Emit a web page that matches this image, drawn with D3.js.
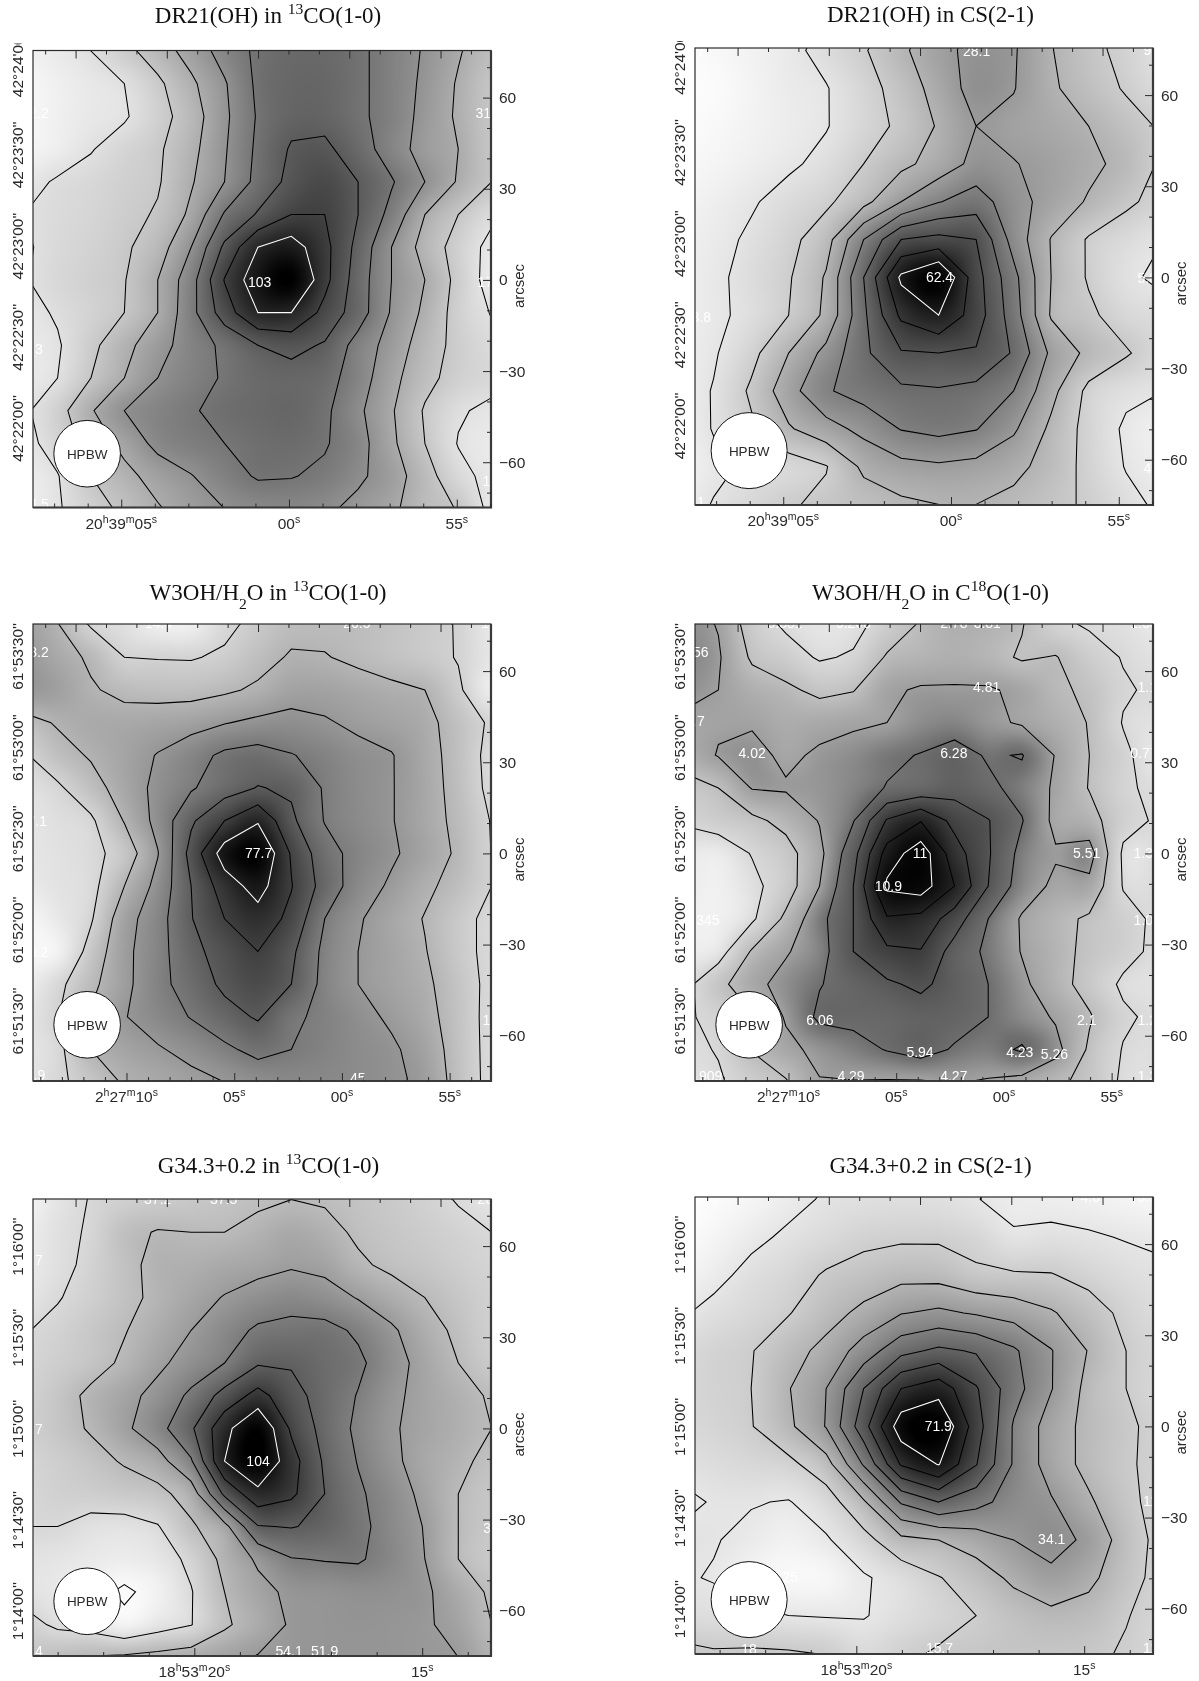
<!DOCTYPE html>
<html>
<head>
<meta charset="utf-8">
<style>
    body { margin: 0; background: #fff; }
    canvas { position: absolute; }
    svg { position: absolute; left: 0; top: 0; }
</style>
<script src="https://cdnjs.cloudflare.com/ajax/libs/d3/7.8.5/d3.min.js"></script>
</head>
<body>
<script>
// maps, one row per line, in units of contour step
const dr21CoGrid = [
    .3,.6,1,1.7,2.5,3.4,4.4,5.2,5.5,5.5,5.2,4.6,3.9,3.1,2.3,
    .1,.4,.7,1,1.8,2.8,3.9,5.2,5.6,5.6,5.2,4.6,3.8,2.9,2,
    .1,.4,.7,.9,1.6,2.5,3.8,5.1,5.7,5.7,5.2,4.6,3.7,2.85,2,
    .2,.5,.95,1.4,1.85,2.7,3.9,5.2,6.1,6.2,5.5,4.5,3.6,3,2,
    .7,1.1,1.3,1.6,1.9,2.9,4,5.3,6.3,6.7,6,5.1,4,2.9,2,
    1,1.2,1.4,1.7,2.1,3.2,5.1,6.1,7,7,6,4.7,3,2,1.2,
    .9,1.25,1.5,1.85,2.5,4,6.2,8,8.5,7.3,5.7,4,2.6,1.6,.7,
    .95,1.3,1.6,1.95,3,4.6,7.05,8.7,9.5,7.3,5.5,4,3,1.7,.6,
    .7,1.1,1.5,2,3,4.7,6.5,8,8,6.7,5.5,3.9,2.8,1.6,.95,
    .6,.9,1.75,2.7,3.6,4.5,5.2,6,6.3,5.9,4.6,3.6,2.5,1.7,1.2,
    .6,1,2,3,4,4.6,5.1,5.5,5.6,5.4,4.5,3.3,2.3,1.6,1.3,
    .85,1.6,2.9,4,4.5,4.9,5.3,5.5,5.6,5.2,4.2,3.1,1.9,1.1,.8,
    .7,1.4,2.4,3.3,4.3,4.7,5,5.3,5.4,5.1,4.4,3.2,2,.95,.6,
    .5,.95,2,2.7,3.4,3.95,4.6,5.1,5.05,4.8,4.2,3.5,2.4,1.3,.7,
    .4,.9,1.6,2.2,2.9,3.5,4,4.3,4.4,4.2,3.7,3.2,2.4,1.95,.7
]
const dr21CsGrid = [
    0,.1,.3,.6,1,1.5,2.3,3.3,4.2,4.2,3,2.2,1.6,1,
    0,.15,.4,.75,1.3,1.9,2.8,3.7,4.3,4.1,3.05,2.3,1.7,1.1,
    0,.05,.35,.7,.95,1.6,2.4,3.4,4.4,4.05,3.15,2.5,1.9,1.3,
    .05,.15,.4,.65,.95,1.55,2.2,3.1,4,3.7,3.4,3,2.4,1.85,
    .15,.3,.55,.85,1.25,2,2.75,3.4,4.3,4.05,3.7,3.25,2.7,1.8,
    .3,.55,.9,1.35,1.8,2.7,4,4.95,5.5,4.4,3.6,2.9,2.2,1.6,
    .5,.7,1.15,1.7,2.6,5,7,7.3,7,4.6,2.95,1.9,1.4,1,
    .5,.8,1.3,1.9,3.1,6,9.2,10.2,7.4,5.3,3,1.9,1.15,.8,
    .5,.8,1.25,2,3.2,5.8,8.2,9,7.5,5.5,2.9,2.2,1.5,1.3,
    .6,.9,1.7,3,4.3,5.8,6.9,7,6.9,5.9,3.8,2.75,2.1,1.4,
    .5,1.05,2.15,3.6,4.9,5.4,5.8,5.9,5.7,5,3.3,1.75,1.2,1,
    .4,1.05,1.85,2.9,3.6,4.3,5.05,5.3,5.05,4.15,2.8,1.65,.85,.5,
    .35,.8,1.15,1.5,1.95,3.2,3.7,3.85,3.7,3.3,2.6,1.7,.95,.6,
    .5,1.05,1.5,1.9,2.2,2.5,2.8,3,3,2.7,2.3,1.85,1.25,.8
]
const w3CoGrid = [
    2.7,2.05,.9,.5,0,0,.75,1.3,1.7,1.75,1.7,1.5,1.25,.95,.2,
    3,2.4,1.85,1,.95,.93,1.15,1.65,2.1,2.05,1.8,1.55,1.3,.95,.3,
    3,2.7,2.1,1.75,1.65,1.65,1.85,2.15,2.6,2.6,2.4,2.2,2,1.15,.05,
    1.6,2.1,2.35,2.4,2.5,2.65,2.95,3.2,3.3,3.1,2.8,2.6,2.3,1.55,.85,
    .9,1.6,2.1,2.55,3.05,3.6,4.2,4.4,4.05,3.7,3.3,3.05,2.4,1.6,.7,
    .45,.85,1.6,2.45,3.25,3.9,4.55,5.05,4.85,3.9,3.4,3.05,2.45,1.65,.75,
    .3,.55,.85,2.05,3.3,4.85,6,6.9,5.2,3.95,3.45,3.05,2.45,1.75,.95,
    .3,.45,.7,1.4,2.95,5.35,7.5,8.1,5.9,4.4,3.65,3.15,2.55,1.85,.98,
    .15,.4,.7,2,3.3,5,6.5,7.4,6.05,4.6,3.5,2.85,2.2,1.65,1,
    -.3,.2,.9,2.6,3.6,4.95,6,6.6,5.75,4,3.1,2.5,1.95,1.3,.75,
    -.3,-.1,1.35,2.75,3.65,4.7,5.45,6,5.2,3.75,3,2.55,2.05,1.3,.75,
    0,.75,1.75,2.75,3.7,4.45,5.2,5.6,5,3.7,3,2.6,2.2,1.45,.75,
    .3,.95,2.1,2.95,3.5,4.05,4.65,5.1,4.2,3.75,3.3,2.85,2.35,1.5,.7,
    .3,.75,2,2.55,2.9,3.3,3.8,4.3,4,3.7,3.4,3.15,2.6,1.55,.7,
    .3,.8,1.4,2.1,2.4,2.7,3,3.3,3.5,3.5,3.4,3.2,2.8,1.6,.7
]
const w3C18oGrid = [
    3.4,2.95,1.5,.85,.6,.7,1.4,2.1,2.5,2.4,2.05,1.2,.9,.75,.5,
    3.5,3.1,1.85,1.4,.9,1.1,2.1,2.35,2.5,2.3,1.9,2.05,1.4,.95,.7,
    3.3,3,2.5,2.2,1.75,1.95,2.85,3.1,3.1,3.1,2.8,2.2,1.8,1.1,.85,
    2.8,2.9,2.9,2.6,2.7,2.85,3,3.4,3.55,3.2,2.9,2.5,1.95,.95,.7,
    2.5,3.05,3.3,2.8,3.15,3.4,3.8,4.05,4.4,3.9,4.05,2.95,2,1.2,.5,
    1.6,2,3.05,3.1,3.2,3.55,4.05,4.3,4.6,4.2,3.7,2.85,1.95,1.15,.8,
    1.1,1.4,1.75,2.3,3.05,3.95,6.1,6.95,5.7,5.05,4.05,2.75,2.4,1.3,.9,
    .5,.45,1.05,1.6,2.75,4.65,7.4,8.6,6.45,5.1,3.7,3.1,3.4,.85,.8,
    .4,.3,.75,1.5,3,5,8.2,8.5,7,5,3.5,2.8,2.75,.95,.85,
    .3,.3,.85,2.2,3.7,5,6.9,6.7,5.5,4,2.9,2.3,1.85,1.3,.85,
    .4,.6,2.1,2.9,3.6,5,5.8,5.95,4.6,3.8,2.95,2.35,1.75,1.3,.8,
    .75,1.7,2.7,3.35,3.95,4.4,4.85,5.2,4.6,4,3.2,2.4,1.6,.85,.7,
    .9,1.2,1.9,3.1,4.2,4.25,4.3,4.5,4.4,4,3.45,2.9,2.1,1.15,.8,
    .8,1.05,2.05,2.75,3.25,3.65,4.05,4.4,3.9,3.7,4.1,3.3,1.85,.95,.8,
    .7,.9,1.4,1.9,2.95,2.95,2.9,2.9,3.05,2.9,2.7,2.2,1.7,.85,.75
]
const g34CoGrid = [
    .1,.6,1.05,1.3,1.45,1.55,1.7,1.85,2,1.9,1.7,1.5,1.25,.95,.6,
    .3,.75,1.1,1.8,2.05,2,2,2.25,2.55,2.3,1.85,1.6,1.4,1.2,1,
    .4,.75,1.2,1.75,2.25,2.35,2.55,2.7,2.9,2.75,2.15,1.8,1.6,1.35,1.15,
    .55,.95,1.3,1.75,2.2,2.65,3.05,3.4,3.6,3.4,2.95,2.45,2,1.6,1.25,
    .95,1.2,1.55,1.95,2.45,3,3.6,4.15,4.3,4.3,3.85,3.15,2.4,1.8,1.3,
    1.1,1.35,1.65,2.15,2.8,3.4,4,4.9,4.9,4.55,4.2,3.4,2.65,2,1.45,
    1.2,1.6,2.2,2.7,3.3,4.2,5.35,6.35,5.35,4.6,3.95,3.2,2.7,2.3,1.9,
    1.3,1.6,2.1,2.8,3.65,4.85,6.7,8,5.85,4.65,3.8,3.1,2.7,2.35,2,
    1.1,1.35,1.65,2.1,2.6,3.9,7,8.1,6.4,4.85,3.95,3.2,2.6,2.2,1.75,
    1.05,1.25,1.35,1.5,1.7,2.45,5.2,6.7,6.2,5,4.15,3.5,2.75,2,1.6,
    1,1,.75,.7,.95,1.85,2.7,4.95,5.05,4.8,4.25,3.6,2.95,2,1.55,
    .7,.6,.45,.35,.55,1.2,2.25,3.15,3.95,4.05,4.1,3.65,3,2,1.5,
    .7,.5,.2,-.1,.2,.95,2,2.7,3.2,3.3,3.4,3.35,3.15,2.5,1.85,
    1.3,.85,.65,.15,.6,.97,1.85,2.5,3.1,3.2,3.25,3.2,3.1,2.75,2,
    1.6,1.85,2.05,2.15,2.3,2.45,2.75,3.05,3.15,3.2,3.2,3.2,3.1,3,2.3
]
const g34CsGrid = [
    0,.1,.3,.55,.85,1.05,1.15,1.2,1.1,.9,.75,.6,.5,.4,
    0,.15,.4,.75,1.1,1.25,1.3,1.25,1.03,.75,.7,.6,.45,.35,
    .1,.4,.8,1.15,1.45,1.75,1.85,1.85,1.6,1.1,1.2,1.1,.95,.85,
    .4,.75,1.25,1.6,2.1,2.4,2.7,2.65,2.2,2.1,2.05,1.7,1.35,1.15,
    .85,1.25,1.55,1.95,2.6,3.25,3.95,4.2,3.9,3.6,3.1,2.45,1.75,1.35,
    1.4,1.7,1.95,2.6,3.3,4.45,5.7,6.2,5.9,5.15,4.05,2.95,2,1.55,
    1.5,1.75,2,2.95,4,6,8,8.6,7.1,5.4,4.05,2.7,2,1.5,
    1.45,1.65,1.95,2.8,4.05,6.6,9.6,10,7.5,4.9,3.55,2.7,2.15,1.7,
    1.15,1.35,1.55,1.75,2.6,5.1,8.1,9.05,7.05,4.9,3.55,2.7,2.1,1.75,
    .8,1.05,1.05,.95,1.5,2.85,5.1,6,5.35,4.55,4.1,3.15,2.25,1.6,
    1.1,1.05,.8,.55,.9,1.65,2.75,3,3.45,4,4.4,3.8,2.5,1.65,
    1.1,.95,.5,.3,.35,.9,1.35,1.95,2.5,3.2,3.75,3.25,2.35,1.65,
    1.35,1.3,1.15,1,.95,.95,1.3,1.65,2,2.45,2.75,2.6,2.05,1.6,
    2.3,2.1,2.15,2.1,1.95,1.45,1.8,2.1,2.2,2.3,2.3,2.2,1.9,1.5
]

// contour levels and grey ramp stops, same units as the grids
const dr21CoLevels = [1, 2, 3, 4, 5, 6, 7, 8]
const dr21CsLevels = [1, 2, 3, 4, 5, 6, 7, 8, 9]
const w3CoLevels = [1, 2, 3, 4, 5, 6, 7]
const w3C18oLevels = [1, 2, 3, 4, 5, 6, 7, 8]
const g34CoLevels = [0, 1, 2, 3, 4, 5, 6, 7]
const g34CsLevels = [1, 2, 3, 4, 5, 6, 7, 8, 9]
const dr21CoGrey = [[0, 9.5], [250, 0]]
const dr21CsGrey = [[0, 10.3], [252, 0]]
const w3CoGrey = [[-.4, 8.2], [250, 0]]
const w3C18oGrey = [[0, 1, 2, 3, 4, 5, 6, 7, 8, 9], [250, 215, 190, 160, 110, 85, 60, 35, 15, 0]]
const g34CoGrey = [[-.1, 8.1], [250, 0]]
const g34CsGrey = [[0, 10], [255, 0]]

// white peak labels (text, x and y offset in arcsec)
const dr21CoText = ['103', '31.2', '17.0', '15.0', '12.2', '13.3', '14.5']
const dr21CoTextX = [-.8, 74.7, 75.3, 77, -74.6, -76.6, -74.6]
const dr21CoTextY = [-.6, 54.9, -.6, -66.2, 54.8, -22.9, -73.8]
const dr21CsText = ['62.4', '28.1', '8.7', '9.5', '5.0', '4.2', '13.8', '6.1']
const dr21CsTextX = [5.1, 17.3, -75.3, 75.4, 73.4, 75.4, -74.5, -75.3]
const dr21CsTextY = [0, 74.5, 74.5, 75, -.2, -62.8, -13, -73.8]
const w3CoText = ['77.7', '14.4', '26.5', '18.2', '17.1', '10.2', '17', '45', '9.9', '1.7']
const w3CoTextX = [-1.1, -34, 31.2, -74.6, -75.2, -74.8, 75.1, 31.5, -74.5, 75.3]
const w3CoTextY = [.2, 75.8, 75.8, 66.4, 10.8, -32.6, -54.9, -73.8, -73, 75.8]
const w3C18oText = ['11', '10.9', '4.02', '6.28', '4.81', '5.51', '6.06', '5.94', '4.23', '5.26', '2.1',
    '0.881', '0.208', '2.78', '3.81', '1.68', '1.56', '2.7', '0.345', '0.77', '1.1', '1.39', '1.03', '1.2',
    '4.29', '4.27', '1.909', '1.3']
const w3C18oTextX = [-1.3, -11.7, -56.5, 9.8, 20.6, 53.5, -34.2, -1.3, 31.5, 42.9, 53.5,
    -45.7, -23.2, 9.8, 20.8, 72.3, -75.3, -75.3, -73, 72.3, 73.4, 73.4, 73.4, 73.4,
    -24, 9.8, -72.1, 73.4]
const w3C18oTextY = [0, -10.8, 33, 33, 54.9, .3, -54.9, -65.4, -65.4, -65.9, -54.9,
    75.8, 75.8, 75.8, 75.8, 75.8, 66.2, 43.6, -22, 33, 54.9, 0, -22, -54.9,
    -73.4, -73.4, -73.4, -73.4]
const g34CoText = ['104', '37.2', '37.5', '26.4', '4.7', '4.7', '31', '54.1', '51.9', '3.4']
const g34CoTextX = [-1.3, -34.3, -12.6, 75.3, -75.3, -75.3, 75.3, 8.9, 20.6, -75.3]
const g34CoTextY = [-10.8, 75.6, 75.6, 75.6, 55.5, -.3, -32.8, -73.4, -73.4, -73.4]
const g34CsText = ['71.9', '34.1', '18', '15.7', '4.6', '5.5', '2.01', '11', '11', '25']
const g34CsTextX = [4.7, 42, -57.5, 5.1, 54.7, 73.4, -71.5, 74.4, 74.4, -44]
const g34CsTextY = [.3, -37, -73.2, -72.9, 75.6, 75.6, 75.6, -24.6, -73, -49.5]

// tick labels
const dr21DecLabels = ["42°24'00''", "42°23'30''", "42°23'00''", "42°22'30''", "42°22'00''"]
const w3DecLabels = ["61°53'30''", "61°53'00''", "61°52'30''", "61°52'00''", "61°51'30''"]
const g34DecLabels = ["1°16'00''", "1°15'30''", "1°15'00''", "1°14'30''", "1°14'00''"]
const dr21RaLabels = ['20h39m05s', '00s', '55s']
const w3RaLabels = ['2h27m10s', '05s', '00s', '55s']
const g34RaLabels = ['18h53m20s', '15s']
const dr21RaTicks = [5, 0, -5]
const w3RaTicks = [10, 5, 0, -5]
const g34RaTicks = [20, 15]
const offsetTicks = [60, 30, 0, -30, -60]
const minorOffsetTicks = [70, 50, 40, 20, 10, -10, -20, -40, -50, -70]

const plotW = 458
const plotH = 457
const inkColour = '#2a2a2a'

const svg = d3.select('body').append('svg').attr('width', 1199).attr('height', 1681)
    .style('font-family', "'Liberation Sans', sans-serif")

function catmull(a, b, c, d, t) {
    return b + 0.5 * t * (c - a + t * (2 * a - 5 * b + 4 * c - d + t * (3 * (b - c) + d - a)))
}

function addMarkedText(sel, str, size) {
    // ^{..} raises and _{..} lowers a run of text
    str.split(/(\^\{[^}]*\}|_\{[^}]*\})/).filter((s) => s).reduce((shift, part) => {
        const mark = part[0] === '^' ? -1 : part[0] === '_' ? 1 : 0
        const tspan = sel.append('tspan').text(mark ? part.slice(2, -1) : part)
        const back = -shift
        const amount = mark * size * 0.38
        tspan.attr('dy', back + amount).attr('font-size', mark ? size * 0.68 : size)
        return amount
    }, 0)
}

function addRaText(sel, str, size) {
    str.split(/([hms])/).filter((s) => s).reduce((shift, part) => {
        const mark = /[hms]/.test(part) ? -1 : 0
        const amount = mark * size * 0.38
        sel.append('tspan').text(part)
            .attr('dy', amount - shift)
            .attr('font-size', mark ? size * 0.68 : size)
        return amount
    }, 0)
}

function drawPanel(o) {
    const id = o.id
    const g = svg.append('g').attr('transform', `translate(${o.left},${o.top})`)
    const x = d3.scaleLinear().domain([-75.3, 75.3]).range([0, plotW])
    const y = d3.scaleLinear().domain([75.5, -74.9]).range([0, plotH])
    const ra = d3.scaleLinear().domain(o.raDomain).range([0, plotW])
    const nx = o.nx
    const ny = o.grid.length / nx
    const colX = (i) => o.colStart + i * o.colStep
    const rowY = (j) => (7 - j) * o.rowStep
    const grey = d3.scaleLinear().domain(o.grey[0]).range(o.grey[1]).clamp(true)

    // grey map, interpolated between the grid nodes
    const canvas = d3.select('body').insert('canvas', 'svg')
        .attr('width', plotW).attr('height', plotH)
        .style('left', o.left + 'px').style('top', o.top + 'px')
    const ctx = canvas.node().getContext('2d')
    const img = ctx.createImageData(plotW, plotH)
    const at = (i, j) => {
        const ci = Math.max(0, Math.min(nx - 1, i))
        const cj = Math.max(0, Math.min(ny - 1, j))
        return o.grid[cj * nx + ci]
    }
    for (let py = 0; py < plotH; py++) {
        const v = (7 * o.rowStep - y.invert(py + 0.5)) / o.rowStep
        const j = Math.floor(v)
        const tv = v - j
        for (let px = 0; px < plotW; px++) {
            const u = (x.invert(px + 0.5) - o.colStart) / o.colStep
            const i = Math.floor(u)
            const tu = u - i
            const r = [-1, 0, 1, 2].map((dj) =>
                catmull(at(i - 1, j + dj), at(i, j + dj), at(i + 1, j + dj), at(i + 2, j + dj), tu))
            const g8 = grey(catmull(r[0], r[1], r[2], r[3], tv))
            const k = (py * plotW + px) * 4
            img.data[k] = img.data[k + 1] = img.data[k + 2] = g8
            img.data[k + 3] = 255
        }
    }
    ctx.putImageData(img, 0, 0)

    g.append('clipPath').attr('id', 'clip' + id)
        .append('rect').attr('width', plotW).attr('height', plotH)
    g.append('clipPath').attr('id', 'clipDec' + id)
        .append('rect').attr('x', -40).attr('y', -7).attr('width', 40).attr('height', plotH + 30)

    const plot = g.append('g').attr('clip-path', `url(#clip${id})`)

    // contours
    const contours = d3.contours().size([nx, ny]).smooth(true).thresholds(o.levels)(o.grid)
    const toPlot = d3.geoTransform({
        point: function (px, py) {
            this.stream.point(x(colX(px - 0.5)), y(rowY(py - 0.5)))
        },
    })
    const path = d3.geoPath(toPlot)
    plot.selectAll('path')
        .data(contours)
        .enter()
        .append('path')
        .attr('d', path)
        .attr('fill', 'none')
        .attr('stroke', (d, i) => (i === o.levels.length - 1 ? '#fff' : '#000'))
        .attr('stroke-width', 1.05)

    // white labels
    plot.selectAll('text.peak')
        .data(o.text)
        .enter()
        .append('text')
        .attr('class', 'peak')
        .attr('x', (d, i) => x(o.textX[i]))
        .attr('y', (d, i) => y(o.textY[i]) + 5)
        .attr('text-anchor', 'middle')
        .attr('font-size', 14)
        .attr('fill', '#fff')
        .text((d) => d)

    // beam
    g.append('circle')
        .attr('cx', x(-57.5))
        .attr('cy', y(o.beamY))
        .attr('r', x(o.beam / 2) - x(0))
        .attr('fill', '#fff')
        .attr('stroke', '#111')
        .attr('stroke-width', 1)
    g.append('text')
        .attr('x', x(-57.5))
        .attr('y', y(o.beamY) + 5)
        .attr('text-anchor', 'middle')
        .attr('font-size', 13.5)
        .attr('fill', inkColour)
        .text('HPBW')

    // frame
    g.append('rect').attr('width', plotW).attr('height', plotH)
        .attr('fill', 'none').attr('stroke', inkColour).attr('stroke-width', 1.2)
    g.append('path').attr('d', `M${plotW},0V${plotH}H0`)
        .attr('fill', 'none').attr('stroke', '#3a3a3a').attr('stroke-width', 2.2)

    const tidy = (sel) => {
        sel.select('.domain').remove()
        sel.selectAll('line').attr('stroke', inkColour)
        sel.attr('font-size', 15.5).attr('font-family', null)
        sel.selectAll('text').attr('fill', inkColour)
    }

    // top: offset in arcsec
    const topMajor = d3.range(-61.3, 70, 30)
    const topMinor = d3.range(-71.3, 75, 10).filter((d) => !topMajor.some((m) => Math.abs(m - d) < 1))
    g.append('g').call(d3.axisTop(x).tickValues(topMajor).tickSize(-8).tickFormat('')).call(tidy)
    g.append('g').call(d3.axisTop(x).tickValues(topMinor).tickSize(-4).tickFormat('')).call(tidy)

    // right: offset in arcsec
    g.append('g').attr('transform', `translate(${plotW},0)`)
        .call(d3.axisRight(y).tickValues(offsetTicks).tickSize(-8).tickPadding(8)).call(tidy)
    g.append('g').attr('transform', `translate(${plotW},0)`)
        .call(d3.axisRight(y).tickValues(minorOffsetTicks).tickSize(-4).tickFormat('')).call(tidy)
    g.append('text')
        .attr('transform', `translate(${plotW + 33},${y(-2)}) rotate(-90)`)
        .attr('text-anchor', 'middle')
        .attr('font-size', 15)
        .attr('fill', inkColour)
        .text('arcsec')

    // left: declination
    const decMajor = o.decLabels.map((d, i) => o.decFirst - 30 * i)
    const decMinor = d3.range(o.decFirst + 0, -75, -10).filter((d) => !decMajor.includes(d) && d < 75)
    const left = g.append('g').attr('clip-path', `url(#clipDec${id})`)
    left.append('g')
        .call(d3.axisLeft(y).tickValues(decMajor).tickSize(-8).tickFormat((d, i) => o.decLabels[i]))
        .call(tidy)
        .selectAll('text')
        .attr('x', 0)
        .attr('y', -10)
        .attr('dy', 0)
        .attr('text-anchor', 'middle')
        .attr('transform', 'rotate(-90)')
    left.append('g')
        .call(d3.axisLeft(y).tickValues(decMinor).tickSize(-4).tickFormat('')).call(tidy)

    // bottom: right ascension
    const raMinor = d3.range(Math.ceil(o.raDomain[1]), o.raDomain[0]).filter((d) => !o.raTicks.includes(d))
    g.append('g').attr('transform', `translate(0,${plotH})`)
        .call(d3.axisBottom(ra).tickValues(o.raTicks).tickSize(-8).tickFormat(''))
        .call(tidy)
    g.append('g').attr('transform', `translate(0,${plotH})`)
        .call(d3.axisBottom(ra).tickValues(raMinor).tickSize(-4).tickFormat(''))
        .call(tidy)
    o.raTicks.forEach((d, i) => {
        g.append('text')
            .attr('x', ra(d))
            .attr('y', plotH + 21)
            .attr('text-anchor', 'middle')
            .attr('fill', inkColour)
            .attr('font-size', 15.5)
            .call(addRaText, o.raLabels[i], 15.5)
    })

    // title
    svg.append('text')
        .attr('x', o.titleX)
        .attr('y', o.titleY)
        .attr('text-anchor', 'middle')
        .attr('font-family', "'Liberation Serif', serif")
        .attr('fill', '#111')
        .call(addMarkedText, o.title, 23)
}

const rowSmall = 10.76
const rowWide = 12.45

drawPanel({
    id: 'a', left: 33, top: 50.5, nx: 15, grid: dr21CoGrid, levels: dr21CoLevels, grey: dr21CoGrey,
    colStart: -78.2, colStep: 10.98, rowStep: rowSmall,
    text: dr21CoText, textX: dr21CoTextX, textY: dr21CoTextY, beam: 21.9, beamY: -57.2,
    decLabels: dr21DecLabels, decFirst: 71.3, raLabels: dr21RaLabels, raTicks: dr21RaTicks, raDomain: [7.63, -6.02],
    title: 'DR21(OH) in ^{13}CO(1-0)', titleX: 268, titleY: 23,
})
drawPanel({
    id: 'b', left: 695, top: 48, nx: 14, grid: dr21CsGrid, levels: dr21CsLevels, grey: dr21CsGrey,
    colStart: -81.5, colStep: 12.33, rowStep: rowWide,
    text: dr21CsText, textX: dr21CsTextX, textY: dr21CsTextY, beam: 25, beamY: -57,
    decLabels: dr21DecLabels, decFirst: 71.3, raLabels: dr21RaLabels, raTicks: dr21RaTicks, raDomain: [7.63, -6.02],
    title: 'DR21(OH) in CS(2-1)', titleX: 930.5, titleY: 22,
})
drawPanel({
    id: 'c', left: 33, top: 624, nx: 15, grid: w3CoGrid, levels: w3CoLevels, grey: w3CoGrey,
    colStart: -78.2, colStep: 10.98, rowStep: rowSmall,
    text: w3CoText, textX: w3CoTextX, textY: w3CoTextY, beam: 21.9, beamY: -56.4,
    decLabels: w3DecLabels, decFirst: 65, raLabels: w3RaLabels, raTicks: w3RaTicks, raDomain: [14.34, -6.92],
    title: 'W3OH/H_{2}O in ^{13}CO(1-0)', titleX: 268, titleY: 600,
})
drawPanel({
    id: 'd', left: 695, top: 624, nx: 15, grid: w3C18oGrid, levels: w3C18oLevels, grey: w3C18oGrey,
    colStart: -78.7, colStep: 11.09, rowStep: rowSmall,
    text: w3C18oText, textX: w3C18oTextX, textY: w3C18oTextY, beam: 21.9, beamY: -56.4,
    decLabels: w3DecLabels, decFirst: 65, raLabels: w3RaLabels, raTicks: w3RaTicks, raDomain: [14.34, -6.92],
    title: 'W3OH/H_{2}O in C^{18}O(1-0)', titleX: 930.5, titleY: 600,
})
drawPanel({
    id: 'e', left: 33, top: 1199, nx: 15, grid: g34CoGrid, levels: g34CoLevels, grey: g34CoGrey,
    colStart: -78.2, colStep: 10.98, rowStep: rowSmall,
    text: g34CoText, textX: g34CoTextX, textY: g34CoTextY, beam: 21.9, beamY: -56.9,
    decLabels: g34DecLabels, decFirst: 60, raLabels: g34RaLabels, raTicks: g34RaTicks, raDomain: [23.54, 13.49],
    title: 'G34.3+0.2 in ^{13}CO(1-0)', titleX: 268.5, titleY: 1173,
})
drawPanel({
    id: 'f', left: 695, top: 1197, nx: 14, grid: g34CsGrid, levels: g34CsLevels, grey: g34CsGrey,
    colStart: -81.5, colStep: 12.33, rowStep: rowWide,
    text: g34CsText, textX: g34CsTextX, textY: g34CsTextY, beam: 25, beamY: -57,
    decLabels: g34DecLabels, decFirst: 60, raLabels: g34RaLabels, raTicks: g34RaTicks, raDomain: [23.54, 13.49],
    title: 'G34.3+0.2 in CS(2-1)', titleX: 930.5, titleY: 1173,
})
</script>
</body>
</html>
